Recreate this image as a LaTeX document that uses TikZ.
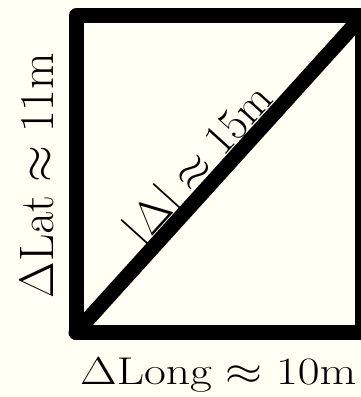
\RequirePackage{fix-cm}
\documentclass[tikz,border=0pt]{standalone}
\usepackage{amsmath}
\usepackage{graphicx}
\usetikzlibrary{calc,positioning}
\definecolor{paper}{RGB}{255,255,244}

\begin{document}
\begin{tikzpicture}[x=1pt,y=1pt]
\path[use as bounding box, fill=paper] (0,0) rectangle (361,397);
\clip (0,0) rectangle (361,397);
\tikzstyle{edge}=[line width=15pt, line join=round, line cap=round]
\tikzstyle{txt}=[inner sep=0pt, font=\fontsize{44}{52}\selectfont]
\coordinate (sw) at (76,64.5);
\coordinate (se) at (362.5,64.5);
\coordinate (ne) at (362.5,381);
\coordinate (nw) at (76,381);
\draw[edge] (sw) -- (se) -- (ne) -- (nw) -- cycle;
\draw[edge] (sw) -- (ne) node[txt, pos=0.484, sloped, anchor=base, yshift=8pt] (diag) {\scalebox{1.03}{$|\Delta| \approx 15\mathrm{m}$}};
\node[txt, anchor=base west] (long) at (80,12.5) {\scalebox{1.08}[0.88]{$\Delta\mathrm{Long} \approx 10\mathrm{m}$}};
\node[txt, anchor=base, rotate=90] (lat) at (53,221.5) {\scalebox{1.075}[1.1]{$\Delta\mathrm{Lat} \approx 11\mathrm{m}$}};
\end{tikzpicture}
\end{document}
